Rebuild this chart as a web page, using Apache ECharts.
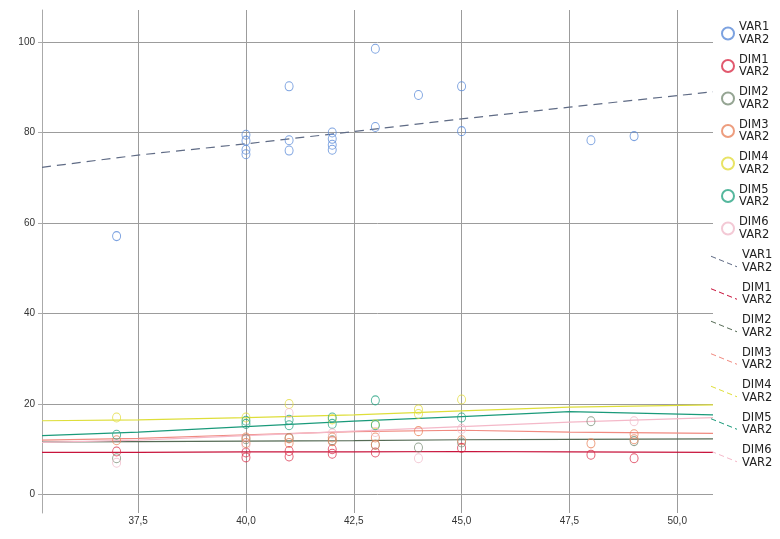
<!DOCTYPE html>
<html>
<head>
<meta charset="utf-8">
<script src="https://cdn.jsdelivr.net/npm/echarts@6/dist/echarts.min.js"></script>
<style>
  html, body { margin: 0; padding: 0; background: #fff; }
  #chart { width: 780px; height: 539px; }
</style>
</head>
<body>
<div id="chart"></div>
<script>
// Axis ticks
const xTicks = [37.5, 40, 42.5, 45, 47.5, 50];
const yTicks = [0, 20, 40, 60, 80, 100];

// Legend labels (group / measure)
const groupLabels = ['VAR1', 'DIM1', 'DIM2', 'DIM3', 'DIM4', 'DIM5', 'DIM6'];
const measureLabel = 'VAR2';

// Observed points [x, y] per group
const varPts = [
  [37, 57.1],
  [40, 79.5], [40, 78.2], [40, 76.2], [40, 75.2],
  [41, 90.2], [41, 78.3], [41, 76.0],
  [42, 80.0], [42, 78.6], [42, 77.3], [42, 76.2],
  [43, 98.5], [43, 81.2],
  [44, 88.3],
  [45, 90.2], [45, 80.3],
  [48, 78.3],
  [49, 79.2]
];
const dim1Pts = [
  [37, 9.5], [40, 9.3], [40, 8.2], [41, 9.6], [41, 8.4], [42, 10.0], [42, 9.0],
  [43, 9.3], [45, 10.3], [48, 8.8], [49, 8.0]
];
const dim2Pts = [
  [37, 8.0], [40, 12.2], [41, 12.5], [42, 12.0], [43, 11.0], [44, 10.4],
  [45, 11.5], [48, 16.2], [49, 11.8]
];
const dim3Pts = [
  [37, 12.0], [40, 12.6], [40, 11.4], [41, 12.4], [41, 11.4], [42, 12.6], [42, 11.8],
  [43, 12.6], [43, 11.0], [44, 14.0], [45, 12.0], [48, 11.3], [49, 13.3], [49, 12.2]
];
const dim4Pts = [
  [37, 17.0], [40, 17.0], [41, 20.0], [42, 16.6], [43, 15.5], [44, 18.8], [44, 17.8], [45, 21.0]
];
const dim5Pts = [
  [37, 13.2], [40, 16.3], [40, 15.6], [41, 16.5], [41, 15.3], [42, 17.0], [42, 15.6],
  [43, 20.8], [43, 15.3], [45, 17.0]
];
const dim6Pts = [
  [37, 7.0], [40, 11.0], [41, 18.0], [42, 13.5], [43, 13.8], [44, 8.0], [45, 14.5], [49, 16.2]
];

// Fit curves sampled along x
const fitX = [35.27, 37.5, 40, 42.5, 45, 47.5, 50.83];
const varFit  = [72.3, 75.0, 77.5, 80.2, 83.0, 85.6, 89.0];
const dim1Fit = [9.3, 9.3, 9.4, 9.4, 9.5, 9.4, 9.3];
const dim2Fit = [11.6, 11.7, 11.8, 11.9, 12.1, 12.2, 12.3];
const dim3Fit = [12.0, 12.4, 13.2, 13.9, 14.2, 13.8, 13.5];
const dim4Fit = [16.3, 16.5, 17.0, 17.6, 18.5, 19.3, 19.8];
const dim5Fit = [13.0, 13.8, 15.0, 16.2, 17.2, 18.3, 17.6];
const dim6Fit = [11.5, 12.0, 13.0, 14.0, 15.0, 16.0, 17.0];

const pointColors = ['#5b8bd8', '#d9304a', '#7a8f78', '#e8845e', '#e2dc3e', '#2aa585', '#f0bccb'];
const lineColors  = ['#5f6b85', '#c8143c', '#556b55', '#f08a80', '#dede3a', '#1a9a7a', '#f4b8c8'];

const pointSets = [varPts, dim1Pts, dim2Pts, dim3Pts, dim4Pts, dim5Pts, dim6Pts];
const fitSets = [varFit, dim1Fit, dim2Fit, dim3Fit, dim4Fit, dim5Fit, dim6Fit];

const pointIds = groupLabels.map(g => 'pts_' + g);
const fitIds = groupLabels.map(g => 'fit_' + g);
const textFor = {};
groupLabels.forEach(g => {
  textFor['pts_' + g] = g + '\n' + measureLabel;
  textFor['fit_' + g] = g + '\n' + measureLabel;
});

// dashed diagonal stroke used as the fit-line legend icon
const fitIcon = 'path://M0,0L5,2.1L5,3.1L0,1Z M8,3.3L13,5.4L13,6.4L8,4.3Z M16,6.6L21,8.7L21,9.7L16,7.6Z M24,9.9L26,10.7L26,11.7L24,10.9Z';

const series = [];
fitSets.forEach((vals, i) => {
  series.push({
    name: fitIds[i],
    type: 'line',
    data: fitX.map((x, k) => [x, vals[k]]),
    symbol: 'none',
    z: 2,
    color: lineColors[i],
    lineStyle: { color: lineColors[i], width: 1.2, type: i === 0 ? [9, 6] : 'solid' },
    silent: true
  });
});
pointSets.forEach((pts, i) => {
  series.push({
    name: pointIds[i],
    type: 'scatter',
    data: pts,
    symbol: 'circle',
    symbolSize: [8, 9],
    z: 3,
    itemStyle: { color: 'rgba(255,255,255,0)', borderColor: pointColors[i], borderWidth: 1 }
  });
});

const legendText = {
  fontSize: 11.5,
  fontFamily: 'DejaVu Sans, Liberation Sans, sans-serif',
  color: '#222',
  lineHeight: 12.5
};

const chart = echarts.init(document.getElementById('chart'), null, { renderer: 'canvas' });
chart.setOption({
  animation: false,
  backgroundColor: '#fff',
  grid: { left: 42, right: 67, top: 10, bottom: 26, containLabel: false },
  xAxis: {
    type: 'value',
    min: 35.27,
    max: 50.83,
    axisLine: { show: false },
    axisTick: { show: false, customValues: xTicks },
    axisLabel: {
      customValues: xTicks,
      fontSize: 10,
      color: '#333',
      margin: 3,
      fontFamily: 'Liberation Sans, Arial, sans-serif',
      formatter: v => v.toFixed(1).replace('.', ',')
    },
    splitLine: { show: true, lineStyle: { color: '#9c9c9c', width: 1 } }
  },
  yAxis: {
    type: 'value',
    min: -4.09,
    max: 107.07,
    axisLine: { show: true, lineStyle: { color: '#aaa' } },
    axisTick: { show: true, length: 4, customValues: yTicks, lineStyle: { color: '#aaa' } },
    axisLabel: {
      customValues: yTicks,
      fontSize: 10,
      color: '#333',
      margin: 7,
      fontFamily: 'Liberation Sans, Arial, sans-serif'
    },
    splitLine: { show: true, lineStyle: { color: '#9c9c9c', width: 1 } }
  },
  legend: [
    {
      orient: 'vertical',
      left: 721,
      top: 21,
      padding: 0,
      itemWidth: 12,
      itemHeight: 12,
      itemGap: 7.5,
      data: pointIds,
      formatter: n => textFor[n],
      textStyle: legendText
    },
    {
      orient: 'vertical',
      left: 711,
      top: 249,
      padding: 0,
      itemWidth: 26,
      itemHeight: 12,
      itemGap: 7.5,
      data: fitIds.map(id => ({ name: id, icon: fitIcon })),
      formatter: n => textFor[n],
      textStyle: legendText
    }
  ],
  series: series
});
</script>
</body>
</html>
